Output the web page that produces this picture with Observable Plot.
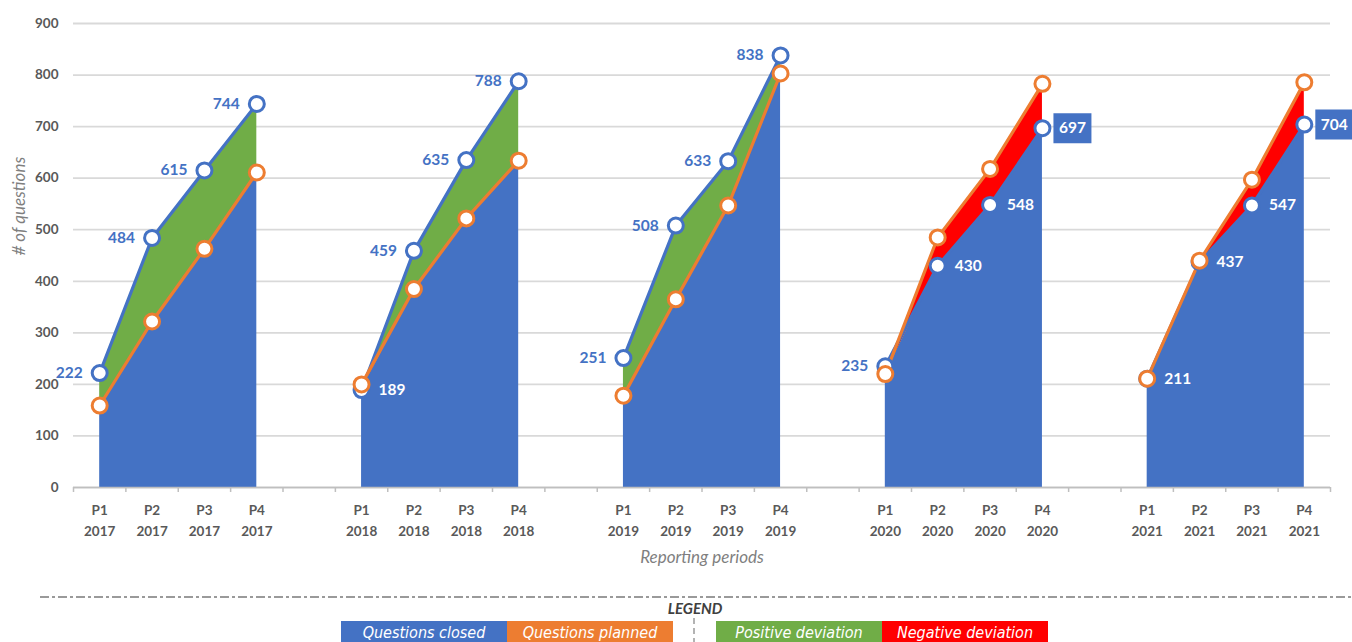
<!DOCTYPE html>
<html>
<head>
<meta charset="utf-8">
<script src="https://cdn.jsdelivr.net/npm/d3@7"></script>
<script src="https://cdn.jsdelivr.net/npm/@observablehq/plot@0.6"></script>
<style>
  body { margin: 0; background: #fff; width: 1352px; height: 642px; overflow: hidden; position: relative; font-family: Lato, "Open Sans", sans-serif; }
  #chart { position: absolute; left: 0; top: 0; }
  .lg { position: absolute; }
  .lg-title { left: 640px; top: 599px; width: 110px; text-align: center; font: italic bold 15px Lato, sans-serif; color: #404040; }
  .lg-box { top: 621px; height: 24px; color: #fff; font: italic 16px "Liberation Sans Narrow", "DejaVu Sans Condensed", sans-serif; text-align: center; line-height: 24px; }
</style>
</head>
<body>
<div id="chart"></div>
<svg class="lg" style="left:0;top:590px" width="1352" height="52">
  <line x1="40" y1="7" x2="1352" y2="7" stroke="#9a9a9a" stroke-width="2" stroke-dasharray="9,3,3,3"></line>
  <line x1="694" y1="28" x2="694" y2="52" stroke="#9a9a9a" stroke-width="1.5" stroke-dasharray="6,4"></line>
</svg>
<div class="lg lg-title">LEGEND</div>
<div id="legend"></div>
<script>
const years = [2017, 2018, 2019, 2020, 2021];
const periods = ["P1", "P2", "P3", "P4"];
const closed  = [222, 484, 615, 744,  189, 459, 635, 788,  251, 508, 633, 838,  235, 430, 548, 697,  211, 437, 547, 704];
const planned = [159, 322, 463, 611,  200, 385, 522, 634,  178, 365, 547, 803,  220, 485, 618, 783,  211, 440, 597, 786];
const yTicks = [0, 100, 200, 300, 400, 500, 600, 700, 800, 900];
const legendItems = ["Questions closed", "Questions planned", "Positive deviation", "Negative deviation"];

const BLUE = "#4472C4", ORANGE = "#ED7D31", GREEN = "#70AD47", RED = "#FF0000", GRAY = "#595959";

const rows = [];
years.forEach((yr, yi) => periods.forEach((p, pi) => {
  const k = yi * 4 + pi;
  const c = closed[k], pl = planned[k];
  rows.push({slot: yi * 5 + pi, year: yr, period: p, closed: c, planned: pl,
             lo: Math.min(c, pl), pos: Math.max(c - pl, 0), neg: Math.max(pl - c, 0)});
}));
const slotLabel = new Map(rows.map(d => [d.slot, d.period + "\n" + d.year]));
const nSlots = years.length * 5 - 1;
const boundaries = d3.range(0, nSlots + 1).map(i => i - 0.5);

const leftLabels = rows.filter(d => d.closed > d.planned);
const rightLabels = rows.filter(d => d.closed <= d.planned && !(d.period === "P4" && d.closed < d.planned));
const boxLabels = rows.filter(d => d.period === "P4" && d.closed < d.planned);
const boxSymbol = { draw(ctx) { ctx.rect(-19, -15, 38, 30); } };

const chart = Plot.plot({
  width: 1352,
  height: 580,
  marginLeft: 73,
  marginRight: 22,
  marginTop: 23,
  marginBottom: 93,
  style: { fontFamily: "Lato, 'Open Sans', sans-serif", fontSize: "13.5px", background: "transparent" },
  x: { domain: [-0.5, nSlots - 0.5] },
  y: { domain: [0, 900] },
  marks: [
    Plot.gridY(yTicks, { stroke: "#d9d9d9", strokeOpacity: 1, strokeWidth: 1.8 }),
    Plot.areaY(rows, { x: "slot", y1: 0, y2: "lo", z: "year", fill: BLUE }),
    Plot.areaY(rows, { x: "slot", y1: "lo", y2: d => d.lo + d.pos, z: "year", fill: GREEN }),
    Plot.areaY(rows, { x: "slot", y1: "lo", y2: d => d.lo + d.neg, z: "year", fill: RED }),
    Plot.ruleY([0], { stroke: "#bfbfbf", strokeWidth: 1.5 }),
    Plot.axisX({ ticks: boundaries, tickSize: 5, tickFormat: () => "", stroke: "#bfbfbf", strokeWidth: 1.5, label: null }),
    Plot.axisX({ ticks: rows.map(d => d.slot), tickSize: 0, tickPadding: 12, tickFormat: s => slotLabel.get(s) ?? "",
                 lineHeight: 1.6, fontWeight: "bold", fill: GRAY, label: null }),
    Plot.axisY({ ticks: yTicks, tickSize: 0, tickPadding: 15, fontWeight: "bold", fill: GRAY, label: null }),
    Plot.text(["# of questions"], { frameAnchor: "left", dx: -54, rotate: -90, fontStyle: "italic", fontSize: 17, fill: "#7f7f7f" }),
    Plot.text(["Reporting periods"], { frameAnchor: "bottom", dy: 75, fontStyle: "italic", fontSize: 17, fill: "#7f7f7f" }),
    Plot.lineY(rows, { x: "slot", y: "closed", z: "year", stroke: BLUE, strokeWidth: 3.2 }),
    Plot.lineY(rows, { x: "slot", y: "planned", z: "year", stroke: ORANGE, strokeWidth: 3.2 }),
    Plot.dot(rows, { x: "slot", y: "closed", r: 7.5, fill: "#fff", stroke: BLUE, strokeWidth: 3 }),
    Plot.dot(rows, { x: "slot", y: "planned", r: 7.5, fill: "#fff", stroke: ORANGE, strokeWidth: 3 }),
    Plot.text(leftLabels, { x: "slot", y: "closed", text: d => String(d.closed), dx: -17, textAnchor: "end",
                            fill: BLUE, fontWeight: "bold", fontSize: 15.5 }),
    Plot.text(rightLabels, { x: "slot", y: "closed", text: d => String(d.closed), dx: 17, textAnchor: "start",
                             fill: "#fff", fontWeight: "bold", fontSize: 15.5 }),
    Plot.dot(boxLabels, { x: "slot", y: "closed", symbol: boxSymbol, fill: BLUE, stroke: "none", dx: 30 }),
    Plot.text(boxLabels, { x: "slot", y: "closed", text: d => String(d.closed), dx: 30,
                           fill: "#fff", fontWeight: "bold", fontSize: 15.5 })
  ]
});
document.getElementById("chart").appendChild(chart);

const legendColors = [BLUE, ORANGE, GREEN, RED];
const legendLeft = [341, 507, 716, 882];
const legendWidth = [166, 166, 166, 166];
const lg = document.getElementById("legend");
legendItems.forEach((t, i) => {
  const el = document.createElement("div");
  el.className = "lg lg-box";
  el.style.left = legendLeft[i] + "px";
  el.style.width = legendWidth[i] + "px";
  el.style.background = legendColors[i];
  el.textContent = t;
  lg.appendChild(el);
});
</script>
</body>
</html>
